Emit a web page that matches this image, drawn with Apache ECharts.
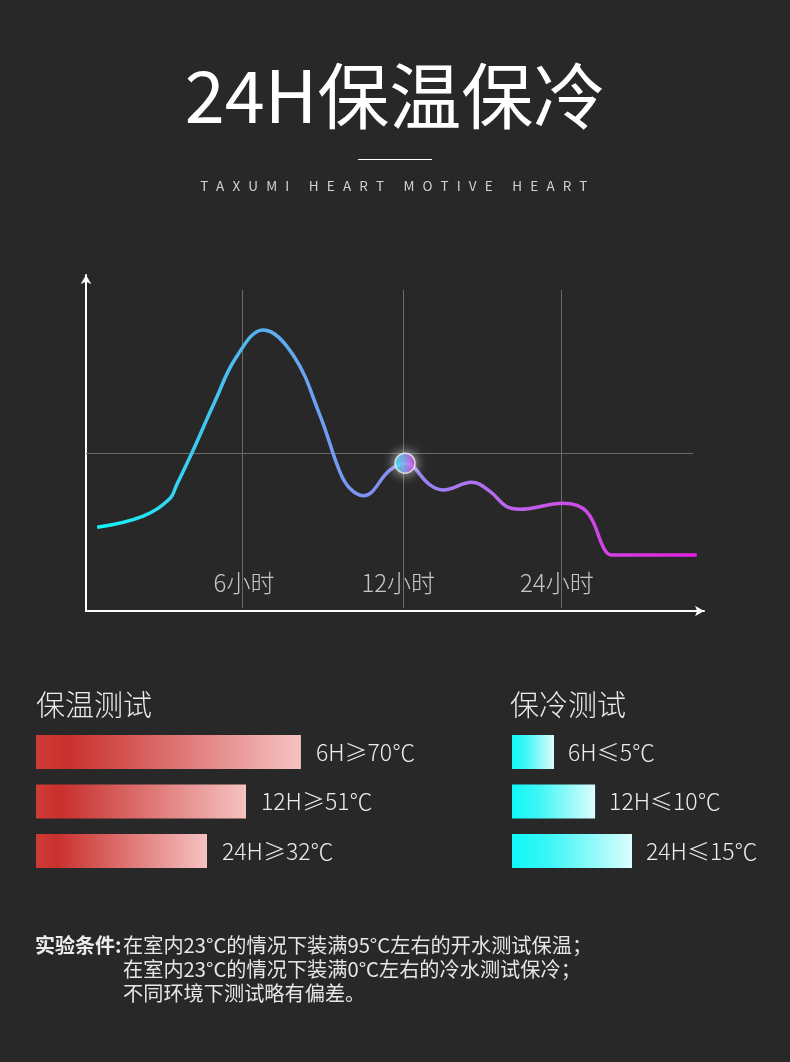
<!DOCTYPE html>
<html><head><meta charset="utf-8">
<script src="https://cdn.jsdelivr.net/npm/echarts@6/dist/echarts.min.js"></script>
<style>
html,body{margin:0;padding:0;background:#282828;}
#wrap{position:relative;width:790px;height:1062px;overflow:hidden;background:#282828;font-family:"Noto Sans CJK SC","Noto Sans",sans-serif;}
#chart{position:absolute;left:0;top:0;width:790px;height:1062px;}
.t{position:absolute;white-space:nowrap;}
</style></head><body>
<div id="wrap">
<div id="chart"></div>
<div class="t" style="left:0;width:790px;top:56px;text-align:center;font-size:72px;line-height:72px;color:#fff;">24H保温保冷</div>
<div class="t" style="left:358px;top:159px;width:74px;height:1px;background:#fff;"></div>
<div class="t" style="left:0;width:790px;top:179px;text-align:center;font-size:13.5px;line-height:13px;letter-spacing:8.2px;padding-left:6px;box-sizing:border-box;color:#d2d2d2;">TAXUMI HEART MOTIVE HEART</div>
<div class="t" style="left:35px;top:933px;font-size:20px;line-height:24px;color:#ececec;font-weight:bold;">实验条件:</div>
<div class="t" style="left:123px;top:933px;font-size:20.2px;line-height:24px;color:#e6e6e6;">在室内23°C的情况下装满95°C左右的开水测试保温；<br>在室内23°C的情况下装满0°C左右的冷水测试保冷；<br>不同环境下测试略有偏差。</div>
</div>
<script>
// ---- line chart data (x: position along time axis, y: relative temperature)
const curveX = [1.8, 9.2, 13.5, 14.5, 17.0, 20.7, 24.2, 28.5, 33.3, 37.6, 40.8, 42.4, 44.6, 48.9, 51.3, 55.3, 57.4, 62.0, 65.0, 67.6, 69.8, 76.7, 80.5, 83.4, 84.5, 98.2];
const curveY = [24.7, 28.0, 33.2, 36.9, 46.5, 61.7, 75.0, 82.9, 75.5, 57.8, 41.1, 36.2, 34.0, 41.6, 43.6, 37.2, 35.7, 38.0, 35.2, 30.8, 30.0, 31.8, 29.3, 18.0, 16.5, 16.5];
const tickLabels = ['6小时', '12小时', '24小时'];
const gridLineX = [25.16, 51.06, 76.4];
const tickLabelX = [25.4, 50.2, 75.7];
const tickLabelY = 8.3;
const refLineY = 46.6;
const markDot = [51.3, 43.6];

// ---- bar data
const hotTitle = '保温测试';
const coldTitle = '保冷测试';
const hotCats = ['6H', '12H', '24H'];
const hotValues = [88.3, 70, 57];
const hotLabels = ['6H≥70℃', '12H≥51℃', '24H≥32℃'];
const coldCats = ['6H', '12H', '24H'];
const coldValues = [14, 27.7, 40];
const coldLabels = ['6H≤5℃', '12H≤10℃', '24H≤15℃'];

const FONT = '"Noto Sans CJK SC", "Noto Sans", sans-serif';
const chart = echarts.init(document.getElementById('chart'), null, {renderer: 'canvas'});

const lineGrad = new echarts.graphic.LinearGradient(0, 0, 1, 0, [
  {offset: 0, color: '#10f6f6'},
  {offset: 0.28, color: '#58b0f0'},
  {offset: 0.45, color: '#7f92f2'},
  {offset: 0.6, color: '#a878f0'},
  {offset: 0.75, color: '#c458e8'},
  {offset: 1, color: '#e81ee0'}
]);
const hotGrad = new echarts.graphic.LinearGradient(0, 0, 1, 0, [
  {offset: 0, color: '#cf3b37'},
  {offset: 0.12, color: '#c8302d'},
  {offset: 1, color: '#f6c2c2'}
]);
const coldGrad = new echarts.graphic.LinearGradient(0, 0, 1, 0, [
  {offset: 0, color: '#10f8f8'},
  {offset: 0.3, color: '#3af6f6'},
  {offset: 1, color: '#dcfdfd'}
]);

const axisLineStyle = {show: true, lineStyle: {color: '#ffffff', width: 2}, symbol: ['none', 'arrow'], symbolSize: [8, 9]};

const vLines = gridLineX.map(x => [{coord: [x, 0.9]}, {coord: [x, 94.7]}]);
const hLine = [[{coord: [0, refLineY]}, {coord: [97.6, refLineY]}]];

const option = {
  backgroundColor: '#282828',
  animation: false,
  grid: [
    {left: 86, top: 275, width: 618, height: 336, outerBoundsMode: 'none'},
    {left: 36, top: 727.25, width: 300, height: 148.5, outerBoundsMode: 'none'},
    {left: 512, top: 727.25, width: 270, height: 148.5, outerBoundsMode: 'none'}
  ],
  xAxis: [
    {gridIndex: 0, type: 'value', min: 0, max: 99.36, axisLine: axisLineStyle, axisTick: {show: false}, axisLabel: {show: false}, splitLine: {show: false}},
    {gridIndex: 1, type: 'value', min: 0, max: 100, show: false},
    {gridIndex: 2, type: 'value', min: 0, max: 90, show: false}
  ],
  yAxis: [
    {gridIndex: 0, type: 'value', min: 0, max: 99.1, axisLine: axisLineStyle, axisTick: {show: false}, axisLabel: {show: false}, splitLine: {show: false}},
    {gridIndex: 1, type: 'category', data: hotCats, inverse: true, show: false},
    {gridIndex: 2, type: 'category', data: coldCats, inverse: true, show: false}
  ],
  graphic: [
    {type: 'text', left: 36, top: 690, style: {text: hotTitle, fontSize: 29, fill: '#ececec', fontFamily: FONT, fontWeight: 300}},
    {type: 'text', left: 510, top: 690, style: {text: coldTitle, fontSize: 29, fill: '#ececec', fontFamily: FONT, fontWeight: 300}}
  ],
  series: [
    {
      type: 'scatter', xAxisIndex: 0, yAxisIndex: 0, z: 1, silent: true,
      data: tickLabelX.map((x, i) => [x, tickLabelY, tickLabels[i]]),
      symbolSize: 1,
      itemStyle: {color: 'rgba(0,0,0,0)'},
      label: {show: true, position: 'inside', formatter: p => p.value[2], color: '#ececec', fontSize: 24, fontFamily: FONT, fontWeight: 300},
      markLine: {
        z: 1,
        silent: true, symbol: ['none', 'none'], label: {show: false},
        lineStyle: {color: '#6a6a6a', width: 1, type: 'solid'},
        data: vLines.concat(hLine)
      }
    },
    {
      type: 'line', xAxisIndex: 0, yAxisIndex: 0, z: 3, silent: true,
      data: curveX.map((x, i) => [x, curveY[i]]),
      smooth: 0.4,
      showSymbol: false,
      lineStyle: {width: 3.5, color: lineGrad}
    },
    {
      type: 'scatter', xAxisIndex: 0, yAxisIndex: 0, z: 4, silent: true,
      data: [markDot],
      symbolSize: 20,
      itemStyle: {
        color: new echarts.graphic.LinearGradient(0, 0, 1, 0, [{offset: 0, color: '#10f4f4'}, {offset: 0.5, color: '#7a8cf0'}, {offset: 1, color: '#e428e2'}]),
        borderColor: 'rgba(255,255,255,0.85)', borderWidth: 1.5,
        shadowBlur: 12, shadowColor: 'rgba(255,255,255,0.95)'
      }
    },
    {
      type: 'bar', xAxisIndex: 1, yAxisIndex: 1, silent: true,
      data: hotValues, barWidth: 34,
      itemStyle: {color: hotGrad},
      label: {show: true, position: 'right', distance: 15, formatter: p => hotLabels[p.dataIndex], color: '#ececec', fontSize: 23, fontFamily: FONT, fontWeight: 300}
    },
    {
      type: 'bar', xAxisIndex: 2, yAxisIndex: 2, silent: true,
      data: coldValues, barWidth: 34,
      itemStyle: {color: coldGrad},
      label: {show: true, position: 'right', distance: 14, formatter: p => coldLabels[p.dataIndex], color: '#ececec', fontSize: 23, fontFamily: FONT, fontWeight: 300}
    }
  ]
};
chart.setOption(option);
</script>
</body></html>
